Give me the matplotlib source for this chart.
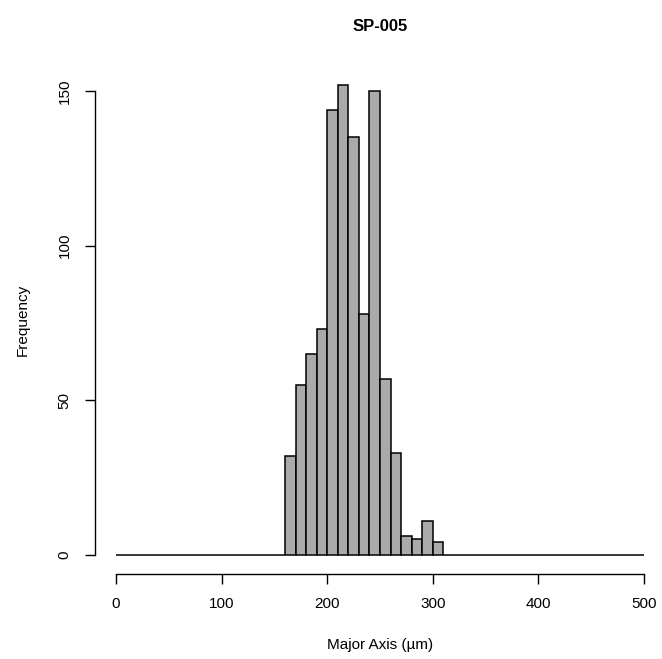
import numpy as np
import matplotlib.pyplot as plt

plt.rcParams["font.family"] = ["Liberation Sans", "DejaVu Sans"]

# histogram counts, bins of width 10 from 160 to 310
bin_start = 160
bin_width = 10
counts = [32, 55, 65, 73, 144, 152, 135, 78, 150, 57, 33, 6, 5, 11, 4]
x_ticks = [0, 100, 200, 300, 400, 500]
y_ticks = [0, 50, 100, 150]

# pad to the full 0-500 range, R draws the empty bins as a flat line
edges = np.arange(0, 500 + bin_width, bin_width)
full = np.zeros(len(edges) - 1)
i0 = (bin_start - edges[0]) // bin_width
full[i0:i0 + len(counts)] = counts

fig = plt.figure(figsize=(6.62, 6.59), dpi=100)
ax = fig.add_axes([0.1435, 0.1297, 0.861, 0.770])

ax.bar(edges[:-1], full, width=bin_width, align="edge",
       color="#aaaaaa", edgecolor="black", linewidth=1.1)

ax.set_xlim(-20, 520)
ax.set_ylim(-0.04 * max(counts), max(counts) * 1.04)

for s in ["top", "right"]:
    ax.spines[s].set_visible(False)
ax.spines["left"].set_bounds(0, 150)
ax.spines["bottom"].set_bounds(0, 500)
ax.spines["left"].set_linewidth(1.0)
ax.spines["bottom"].set_linewidth(1.0)

ax.set_xticks(x_ticks)
ax.set_yticks(y_ticks)
ax.set_yticklabels([str(v) for v in y_ticks], rotation=90, va="center")
ax.tick_params(axis="both", length=7, width=1.0, labelsize=11, pad=10)

ax.set_xlabel("Major Axis (\u00b5m)", fontsize=11, labelpad=19)
ax.set_ylabel("Frequency", fontsize=11, labelpad=20)
ax.set_title("SP-005", fontsize=12, fontweight="bold", pad=25)

plt.savefig("out.png", dpi=100)
